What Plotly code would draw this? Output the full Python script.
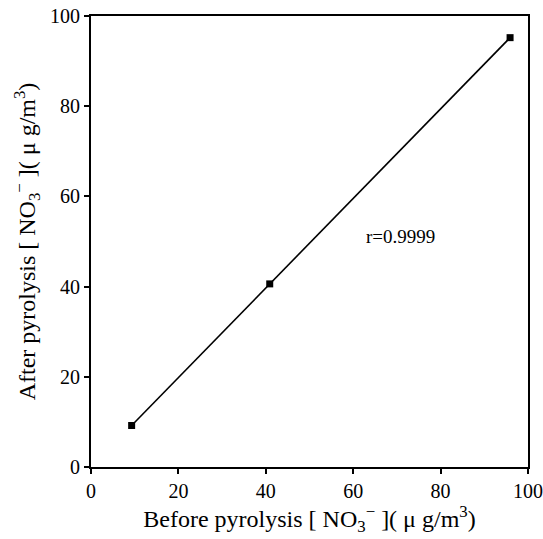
import plotly.graph_objects as go

before = [9.3, 40.9, 95.9]
after = [9.2, 40.6, 95.2]
r_label = "r=0.9999"
r_pos = (70.8, 51.0)
ticks = [0, 20, 40, 60, 80, 100]

fig = go.Figure()
fig.add_trace(go.Scatter(
    x=before, y=after, mode="lines+markers",
    line=dict(color="black", width=1.6),
    marker=dict(symbol="square", size=7, color="black"),
    showlegend=False,
))
fig.add_annotation(x=r_pos[0], y=r_pos[1], text=r_label, showarrow=False,
                   font=dict(family="Liberation Serif", size=19, color="black"))

axis_common = dict(
    range=[0, 100], tickvals=ticks, ticks="outside", ticklen=5, tickwidth=1.5,
    tickcolor="black", showline=True, linecolor="black", linewidth=2,
    mirror=True, showgrid=False, zeroline=False, automargin=False,
    tickfont=dict(family="Liberation Serif", size=20, color="black"),
)
fig.update_xaxes(**axis_common,
                 title=dict(text="Before pyrolysis [ NO<sub>3</sub><sup>−</sup> ]( μ g/m<sup>3</sup>)",
                            font=dict(family="Liberation Serif", size=24, color="black"),
                            standoff=6))
fig.update_yaxes(**axis_common,
                 title=dict(text="After pyrolysis [ NO<sub>3</sub><sup>−</sup> ]( μ g/m<sup>3</sup>)",
                            font=dict(family="Liberation Serif", size=24, color="black"),
                            standoff=8))
fig.update_layout(
    width=543, height=539,
    margin=dict(l=91, r=15, t=16, b=72),
    plot_bgcolor="white", paper_bgcolor="white",
)
fig.write_html(
    "out.html",
    config={"displayModeBar": False},
    post_script="document.body.style.margin='0';document.body.style.overflow='hidden';",
)
